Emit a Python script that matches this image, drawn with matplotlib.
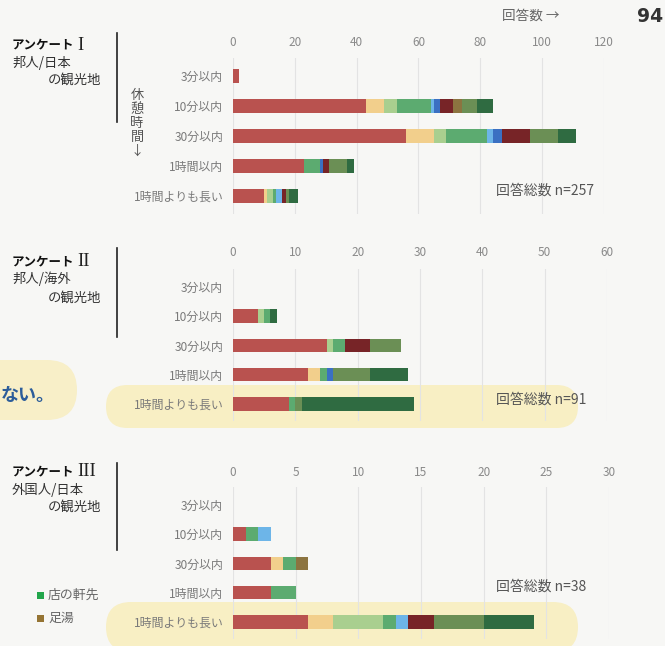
import matplotlib
matplotlib.use('Agg')
import matplotlib.pyplot as plt
from matplotlib.patches import FancyBboxPatch, Rectangle
import numpy as np

plt.rcParams['font.family'] = ['Noto Sans CJK JP', 'DejaVu Sans']

W, H = 665, 646

categories = ['3分以内', '10分以内', '30分以内', '1時間以内', '1時間よりも長い']

# one colour per answer type, stacked left to right
series_colors = ['#b9524f', '#f2cf8c', '#a9cf8f', '#5cab70', '#6db5e8',
                 '#3b70c2', '#772427', '#8c7440', '#6b8f55', '#2f6b41']

# rows = categories, columns = answer types
survey1 = [[2, 0, 0, 0, 0, 0, 0, 0, 0, 0],
           [43, 6, 4, 11, 1, 2, 4, 3, 5, 5],
           [56, 9, 4, 13, 2, 3, 9, 0, 9, 6],
           [23, 0, 0, 5, 0, 1, 2, 0, 6, 2],
           [10, 1, 2, 1, 2, 0, 1, 0, 1, 3]]
survey2 = [[0, 0, 0, 0, 0, 0, 0, 0, 0, 0],
           [4, 0, 1, 1, 0, 0, 0, 0, 0, 1],
           [15, 0, 1, 2, 0, 0, 4, 0, 5, 0],
           [12, 2, 0, 1, 0, 1, 0, 0, 6, 6],
           [9, 0, 0, 1, 0, 0, 0, 0, 1, 18]]
survey3 = [[0, 0, 0, 0, 0, 0, 0, 0, 0, 0],
           [1, 0, 0, 1, 1, 0, 0, 0, 0, 0],
           [3, 1, 0, 1, 0, 0, 0, 1, 0, 0],
           [3, 0, 0, 2, 0, 0, 0, 0, 0, 0],
           [6, 2, 4, 1, 1, 0, 2, 0, 4, 4]]

numerals = ['I', 'II', 'III']
subtitles = ['邦人/日本', '邦人/海外', '外国人/日本']
totals = [257, 91, 38]
xmax = [120, 60, 30]
xstep = [20, 10, 5]

legend_labels = ['店の軒先', '足湯']
legend_colors = ['#22a64b', '#957433']

# layout in pixels (y measured from the top of the page)
row0 = [76, 287, 505]
gap = [30, 29.2, 29.2]
x0 = 233
x_right = [604, 607, 609]
tick_y = [43, 253, 473]
title_y = [45, 262, 472]
sub_y = [63, 279, 490]
sub2_y = [80, 298, 507]
bar_y = [(33, 122), (248, 337), (463, 550)]
total_y = [191, 400, 587]

fig = plt.figure(figsize=(W / 100, H / 100), dpi=100, facecolor='#f7f7f5')


def fx(x):
    return x / W


def fy(y):
    return 1 - y / H


def pill(x, y, w, h, color):
    # rounded box in inches so the corners stay round
    p = FancyBboxPatch((x / 100, (H - y - h) / 100), w / 100, h / 100,
                       boxstyle='round,pad=0,rounding_size=%f' % (h / 200),
                       transform=fig.dpi_scale_trans, facecolor=color,
                       edgecolor='none', zorder=-5)
    fig.add_artist(p)


# highlighted rows and the side note
pill(-40, 360, 117, 60, '#f8efc8')
pill(106, 385, 472, 43, '#f8efc4')
pill(106, 602, 472, 50, '#f8efc4')
fig.text(fx(1), fy(396), 'ない。', fontsize=13, fontweight='bold',
         color='#2c5d9a', ha='left', va='center')

surveys = [survey1, survey2, survey3]
for k, data in enumerate(surveys):
    data = np.array(data)
    top = row0[k] - 0.6 * gap[k]
    bottom = row0[k] + 4.6 * gap[k]
    ax = fig.add_axes([fx(x0), fy(bottom), (x_right[k] - x0) / W,
                       (bottom - top) / H])
    ax.set_facecolor('none')
    rows = np.arange(len(categories))
    left = np.zeros(len(categories))
    for j in range(data.shape[1]):
        ax.barh(rows, data[:, j], left=left, height=0.47,
                color=series_colors[j], linewidth=0)
        left += data[:, j]
    ax.set_xlim(0, xmax[k])
    ax.set_ylim(4.6, -0.6)
    ax.set_xticks(np.arange(0, xmax[k] + 1, xstep[k]))
    ax.set_yticks(rows)
    ax.set_yticklabels(categories)
    ax.xaxis.tick_top()
    pad = (top - tick_y[k] - 6) * 0.72
    ax.tick_params(axis='x', length=0, pad=pad, labelsize=8.5,
                   labelcolor='#8a8a8a')
    ax.tick_params(axis='y', length=0, pad=7, labelsize=8.6,
                   labelcolor='#7a7a7a')
    ax.grid(axis='x', color='#e3e3e3', linewidth=0.8)
    ax.set_axisbelow(True)
    for s in ax.spines.values():
        s.set_visible(False)

    # panel heading
    t = fig.text(fx(12), fy(title_y[k]), 'アンケート', fontsize=9,
                 fontweight='bold', color='#111111', va='center')
    ax.annotate(numerals[k], xy=(1, 0.5), xycoords=t, xytext=(2, 0),
                textcoords='offset points', va='center', ha='left',
                fontsize=13.5, family='Liberation Serif', color='#222222')
    fig.text(fx(12), fy(sub_y[k]), subtitles[k], fontsize=9.6,
             color='#333333', va='center')
    fig.text(fx(101), fy(sub2_y[k]), 'の観光地', fontsize=9.6,
             color='#333333', va='center', ha='right')
    fig.add_artist(plt.Line2D([fx(117), fx(117)],
                              [fy(bar_y[k][0]), fy(bar_y[k][1])],
                              color='#222222', linewidth=1.2))
    fig.text(fx(496), fy(total_y[k]), '回答総数 n=%d' % totals[k],
             fontsize=10, color='#555555', va='center', ha='left')

# axis caption for the first panel
fig.text(fx(137), fy(123), '休\n憩\n時\n間\n↓', fontsize=9.5,
         color='#555555', ha='center', va='center', linespacing=1.1)

fig.text(fx(502), fy(16), '回答数 →', fontsize=9.8, color='#666666',
         va='center', ha='left')
fig.text(fx(663), fy(16), '94', fontsize=13.5, fontweight='bold',
         color='#333333', va='center', ha='right', family='DejaVu Sans')

# legend entries
for i, (lab, col) in enumerate(zip(legend_labels, legend_colors)):
    y = 595 + 23 * i
    fig.add_artist(Rectangle((fx(37), fy(y + 3.5)), 7 / W, 7 / H,
                             transform=fig.transFigure, facecolor=col,
                             edgecolor='none'))
    fig.text(fx(48), fy(y), lab, fontsize=9.3, color='#666666',
             va='center', ha='left')

fig.savefig('out.png', dpi=100, facecolor=fig.get_facecolor())
